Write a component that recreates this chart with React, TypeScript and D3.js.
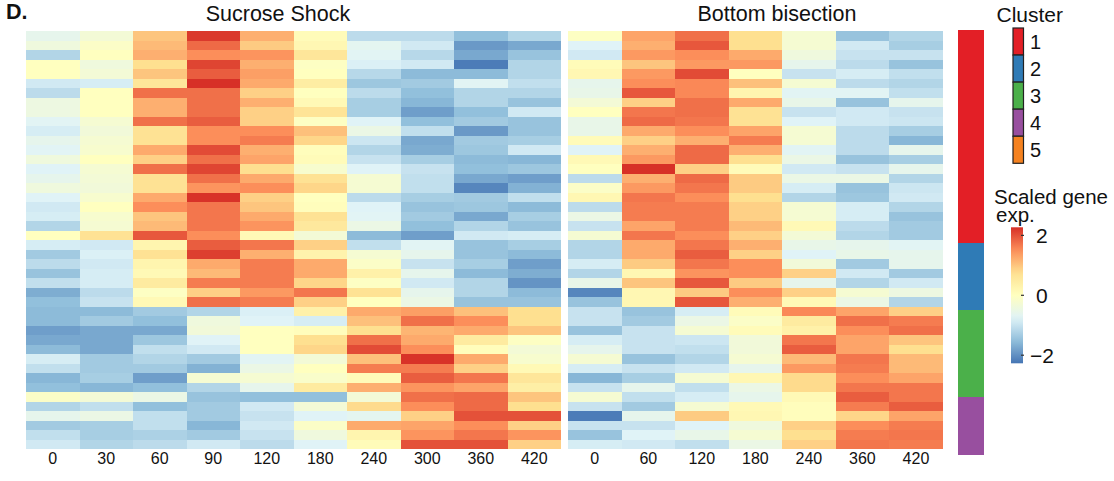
import React from "react";
import * as d3 from "d3";

// time points (minutes) of the two experiments
const sucroseTimes = ["0", "30", "60", "90", "120", "180", "240", "300", "360", "420"];
const bisectionTimes = ["0", "60", "120", "180", "240", "360", "420"];

// scaled expression, one row per gene, columns follow sucroseTimes
const sucroseValues = [
  [-0.6, -0.3, 1.0, 2.2, 1.2, 0.1, -1.1, -1.1, -1.5, -1.2],
  [-0.4, -0.1, 1.1, 1.8, 0.95, 0.2, -0.65, -0.9, -1.9, -1.75],
  [-1.2, 0.0, 1.2, 1.5, 1.45, 0.6, -0.7, -1.15, -1.75, -1.45],
  [0.0, -0.4, 0.75, 2.1, 1.2, -0.05, -0.8, -0.9, -2.2, -1.2],
  [0.0, -0.3, 1.0, 1.9, 1.35, 0.0, -1.15, -1.55, -1.55, -1.2],
  [-0.9, -0.85, 0.6, 2.35, 1.25, 0.45, -1.4, -1.35, -0.7, -1.05],
  [-1.1, 0.0, 1.75, 1.75, 0.9, 0.0, -1.1, -1.5, -1.2, -1.2],
  [-0.45, 0.0, 1.2, 1.75, 1.2, 0.15, -1.3, -1.6, -1.2, -1.45],
  [-0.45, 0.0, 1.2, 1.75, 0.9, 0.65, -1.3, -1.85, -1.5, -0.9],
  [-0.7, -0.25, 1.75, 1.9, 0.9, -0.05, -0.75, -1.5, -1.35, -1.45],
  [-0.85, -0.35, 0.7, 1.5, 1.5, 1.05, -0.5, -1.05, -1.9, -1.45],
  [-0.6, -0.25, 0.7, 1.5, 1.65, 0.85, -0.95, -1.75, -1.35, -1.3],
  [-0.72, -0.2, 1.25, 2.05, 1.2, 0.05, -1.2, -1.7, -1.4, -0.9],
  [-0.4, 0.0, 0.9, 1.75, 1.3, 0.1, -1.0, -1.3, -1.55, -1.6],
  [-0.75, -0.25, 1.75, 2.1, 0.75, -0.2, -0.75, -1.0, -1.5, -1.4],
  [-0.6, -0.3, 0.7, 1.75, 1.25, 0.7, -0.25, -1.05, -1.75, -1.85],
  [-0.4, -0.35, 0.7, 1.45, 1.5, 0.85, -0.25, -1.05, -2.1, -1.65],
  [-0.75, -0.2, 1.25, 2.25, 0.9, 0.0, -1.1, -1.3, -1.35, -1.05],
  [-0.9, 0.0, 1.5, 1.7, 1.0, 0.05, -0.75, -1.45, -1.4, -1.55],
  [-0.85, -0.2, 1.0, 1.7, 1.25, 0.7, -0.72, -1.35, -1.75, -1.3],
  [-1.2, -0.25, 1.1, 1.7, 1.45, 0.55, -0.5, -1.5, -1.2, -1.45],
  [0.0, 0.7, 1.95, 1.5, 0.15, -0.3, -1.55, -1.85, -0.9, -0.85],
  [-0.85, -0.9, 0.25, 1.9, 1.7, 0.9, -1.05, -0.7, -1.45, -1.3],
  [-1.35, -0.8, 0.7, 2.15, 1.2, 0.3, -0.25, -0.6, -1.45, -1.55],
  [-1.1, -0.9, 0.25, 1.25, 1.65, 1.25, -0.1, -1.0, -1.3, -1.85],
  [-1.45, -0.85, 0.15, 1.1, 1.65, 1.25, 0.35, -0.6, -1.55, -1.7],
  [-1.05, -0.85, 0.5, 1.65, 1.65, 0.85, -0.05, -0.9, -1.2, -1.95],
  [-1.7, -1.1, -0.05, 0.9, 1.4, 1.7, 0.7, -0.6, -1.2, -1.55],
  [-1.5, -1.0, 0.15, 1.75, 1.65, 0.9, 0.0, -0.5, -1.45, -1.45],
  [-1.55, -1.55, -1.35, -1.2, -0.8, 0.35, 1.25, 1.35, 1.05, 0.75],
  [-1.55, -1.35, -1.5, -0.4, -0.75, -0.85, 1.05, 1.75, 1.5, 0.75],
  [-1.85, -1.75, -1.75, -0.35, 0.0, 0.05, 0.75, 1.15, 1.25, 1.0],
  [-1.75, -1.75, -1.4, -0.75, 0.0, 0.75, 1.75, 1.25, 0.5, -0.05],
  [-1.55, -1.75, -1.05, -0.9, 0.0, 0.85, 2.05, 1.5, 0.05, -0.3],
  [-0.85, -1.35, -1.2, -1.35, -0.7, -0.3, 1.05, 2.25, 1.25, -0.2],
  [-1.05, -1.35, -1.35, -1.65, -0.5, 0.0, 1.65, 1.65, 0.9, 0.15],
  [-1.6, -1.3, -1.85, -0.25, -0.25, -0.15, 0.1, 1.9, 1.7, 0.6],
  [-1.5, -1.6, -1.5, -1.2, -0.6, 0.5, 1.2, 1.45, 1.3, 0.4],
  [-0.1, -0.3, -0.5, -1.45, -1.5, -1.5, -0.3, 1.75, 1.8, 1.0],
  [-1.2, -1.05, -1.5, -1.35, -0.9, -0.3, 0.8, 1.5, 1.8, 0.75],
  [-0.6, -0.5, -1.05, -1.35, -1.0, -0.75, -0.65, 0.9, 2.0, 2.0],
  [-1.35, -1.3, -1.05, -1.6, -0.9, -0.1, 1.25, 1.3, 1.5, 0.9],
  [-1.05, -1.3, -1.25, -1.35, -1.0, -0.4, 0.25, 1.45, 1.7, 1.45],
  [-0.9, -1.2, -1.1, -0.9, -1.1, -0.75, 0.1, 2.0, 2.0, 0.9],
];

// same genes, columns follow bisectionTimes
const bisectionValues = [
  [-0.05, 1.3, 1.75, 0.75, -0.25, -1.45, -1.2],
  [-0.75, 1.2, 1.95, 0.75, -0.25, -0.9, -1.3],
  [-0.9, 1.4, 1.5, 1.25, -0.4, -1.0, -1.0],
  [0.1, 1.0, 1.4, 1.4, -0.6, -1.1, -1.45],
  [0.2, 1.4, 2.05, 0.0, -1.0, -0.85, -1.05],
  [-0.6, 1.5, 1.55, 1.05, -0.25, -1.1, -1.2],
  [-0.55, 1.95, 1.55, 0.25, -0.7, -0.7, -1.05],
  [-0.3, 0.9, 1.75, 1.25, -0.55, -1.45, -0.6],
  [0.0, 1.7, 1.75, 0.7, -1.0, -0.9, -1.0],
  [-0.55, 1.8, 1.7, 0.7, -0.75, -0.9, -0.95],
  [-0.55, 1.25, 1.5, 1.3, -0.25, -1.1, -1.3],
  [0.1, 0.9, 1.2, 1.65, -0.25, -1.1, -1.6],
  [-0.75, 1.2, 1.8, 1.2, -0.7, -1.1, -0.6],
  [0.15, 1.4, 1.8, 0.75, -0.5, -1.45, -1.3],
  [0.0, 2.35, 0.9, 0.1, -0.9, -1.0, -0.6],
  [-1.1, 1.2, 1.8, 0.95, -0.5, -0.5, -1.2],
  [-0.1, 1.4, 1.7, 0.95, -0.85, -1.45, -0.95],
  [0.2, 1.7, 1.5, 0.75, -1.2, -1.4, -0.9],
  [-1.1, 1.65, 1.65, 0.9, -0.25, -0.85, -1.2],
  [-0.5, 1.65, 1.65, 0.9, -0.25, -0.85, -1.45],
  [-1.0, 1.3, 1.65, 1.1, 0.15, -1.1, -1.35],
  [-0.25, 1.7, 1.5, 0.9, -0.3, -1.2, -1.35],
  [-1.2, 1.25, 1.7, 1.2, -0.55, -0.6, -0.7],
  [-1.2, 1.25, 1.9, 0.9, -0.75, -0.55, -0.6],
  [-0.85, 0.95, 1.7, 1.5, -0.35, -1.35, -0.6],
  [-1.2, 0.2, 1.45, 1.5, 0.9, -0.9, -1.35],
  [-0.55, 1.0, 1.95, 0.95, -0.6, -1.2, -0.9],
  [-2.1, 0.2, 0.95, 1.5, 0.9, -0.25, -0.45],
  [-1.45, 0.2, 1.95, 1.2, 0.15, -0.5, -1.2],
  [-1.0, -1.45, -0.85, 0.1, 1.55, 1.3, 0.9],
  [-1.0, -1.35, -0.5, -0.1, 0.5, 1.75, 1.65],
  [-1.45, -1.0, -0.25, 0.1, 0.35, 1.5, 1.75],
  [-0.85, -1.0, -0.95, -0.35, 1.7, 1.3, 1.0],
  [-0.6, -1.0, -1.05, -0.35, 1.9, 1.3, 0.75],
  [-0.25, -1.45, -1.2, -0.25, 1.1, 1.7, 1.1],
  [-0.85, -1.0, -0.9, -0.6, 1.4, 1.65, 1.1],
  [-1.6, -1.3, -0.25, 0.2, 0.8, 1.5, 1.3],
  [-1.0, -0.6, -1.05, -0.5, 0.8, 1.7, 1.7],
  [-0.25, -1.05, -0.85, -0.6, 0.15, 1.9, 1.7],
  [-1.0, -1.35, -0.25, 0.15, 0.05, 1.65, 1.9],
  [-2.2, -0.6, 0.95, 0.2, 0.05, 0.85, 1.3],
  [-1.0, -1.0, -0.75, -0.4, 0.9, 1.5, 1.65],
  [-1.45, -0.75, -0.55, -0.25, 0.75, 1.65, 1.7],
  [-0.85, -0.9, -1.05, -0.5, 0.9, 1.7, 1.65],
];

const clusterNames = ["1", "2", "3", "4", "5"];
const clusterColors = ["#e31f26", "#2f7bb6", "#4bb04a", "#984f9f", "#f58220"];
const clusterSizes = [22, 7, 9, 6, 0];

const legendTicks = [-2, 0, 2];
const valueRange = [-2.27, 2.27];
// pheatmap default palette, rev(brewer.pal(7, "RdYlBu"))
const palette = ["#4575b4", "#91bfdb", "#e0f3f8", "#ffffbf", "#fee090", "#fc8d59", "#d73027"];

const FONT = "'Liberation Sans', Arial, Helvetica, sans-serif";

const color = d3
  .scaleLinear<string>()
  .domain(d3.range(palette.length).map((i) => valueRange[0] + (i * (valueRange[1] - valueRange[0])) / (palette.length - 1)))
  .range(palette)
  .clamp(true);

// one entry per gene row
const rowCluster = clusterSizes.flatMap((n, i) => d3.range(n).map(() => clusterNames[i]));
const rowIds = d3.range(sucroseValues.length);

const Heatmap = ({ times, values, x0, x1 }) => {
  const x = d3.scaleBand().domain(times).range([x0, x1]);
  const y = d3.scaleBand().domain(rowIds).range([31, 449]);
  return (
    <g>
      {values.map((row, i) =>
        row.map((v, j) => (
          <rect
            key={i + "-" + j}
            x={x(times[j])}
            y={y(i)}
            width={x.bandwidth()}
            height={y.bandwidth()}
            fill={color(v)}
            shapeRendering="crispEdges"
          />
        ))
      )}
      {times.map((t) => (
        <text key={t} x={x(t) + x.bandwidth() / 2} y={464} textAnchor="middle" fontSize={16}>
          {t}
        </text>
      ))}
    </g>
  );
};

const App = () => {
  const width = 1114;
  const height = 481;

  // cluster annotation bar
  const yBar = d3.scaleBand().domain(rowIds).range([30, 455]);
  const runs = [];
  rowCluster.forEach((c, i) => {
    const last = runs[runs.length - 1];
    if (last && last.c === c) last.end = i;
    else runs.push({ c, start: i, end: i });
  });
  const clusterColor = d3.scaleOrdinal<string>().domain(clusterNames).range(clusterColors);

  // legends
  const ySwatch = d3.scaleBand().domain(clusterNames).range([28, 163.3]);
  const yLegend = d3.scaleLinear().domain(valueRange).range([363.3, 227.3]);
  const stops = d3.range(0, 1.0001, 0.05);

  return (
    <svg
      width={width}
      height={height}
      style={{ position: "absolute", left: 0, top: 0, display: "block" }}
      fontFamily={FONT}
      fill="#111"
    >
      <defs>
        <linearGradient id="scaleGrad" x1="0" y1="1" x2="0" y2="0">
          {stops.map((s) => (
            <stop
              key={s}
              offset={s}
              stopColor={color(valueRange[0] + s * (valueRange[1] - valueRange[0]))}
            />
          ))}
        </linearGradient>
      </defs>
      <rect width={width} height={height} fill="#fff" />

      <text x={6} y={19} fontSize={21.5} fontWeight="bold">
        D.
      </text>
      <text x={278} y={21} fontSize={21.5} textAnchor="middle">
        Sucrose Shock
      </text>
      <text x={777} y={21} fontSize={21.5} textAnchor="middle">
        Bottom bisection
      </text>

      <Heatmap times={sucroseTimes} values={sucroseValues} x0={26} x1={561} />
      <Heatmap times={bisectionTimes} values={bisectionValues} x0={568} x1={942.7} />

      {runs.map((r) => (
        <rect
          key={r.c}
          x={958}
          y={yBar(r.start)}
          width={26}
          height={yBar(r.end) + yBar.bandwidth() - yBar(r.start)}
          fill={clusterColor(r.c)}
          shapeRendering="crispEdges"
        />
      ))}

      <text x={996.5} y={21.5} fontSize={21}>
        Cluster
      </text>
      {clusterNames.map((c) => (
        <g key={c}>
          <rect
            x={1013}
            y={ySwatch(c)}
            width={10.5}
            height={ySwatch.bandwidth()}
            fill={clusterColor(c)}
            stroke="#222"
            strokeWidth={1.2}
          />
          <text x={1030} y={ySwatch(c) + ySwatch.bandwidth() / 2 + 7} fontSize={20}>
            {c}
          </text>
        </g>
      ))}

      <text x={994} y={203.5} fontSize={20.5}>
        Scaled gene
      </text>
      <text x={996} y={222} fontSize={20.5}>
        exp.
      </text>
      <rect x={1011} y={227.3} width={12} height={136} fill="url(#scaleGrad)" />
      {legendTicks.map((t) => (
        <g key={t}>
          <line x1={1021} x2={1024} y1={yLegend(t)} y2={yLegend(t)} stroke="#333" strokeWidth={1.2} />
          <text x={t < 0 ? 1030 : 1036} y={yLegend(t) + 7.5} fontSize={21}>
            {t < 0 ? "\u2212" + Math.abs(t) : t}
          </text>
        </g>
      ))}
    </svg>
  );
};

export default App;
